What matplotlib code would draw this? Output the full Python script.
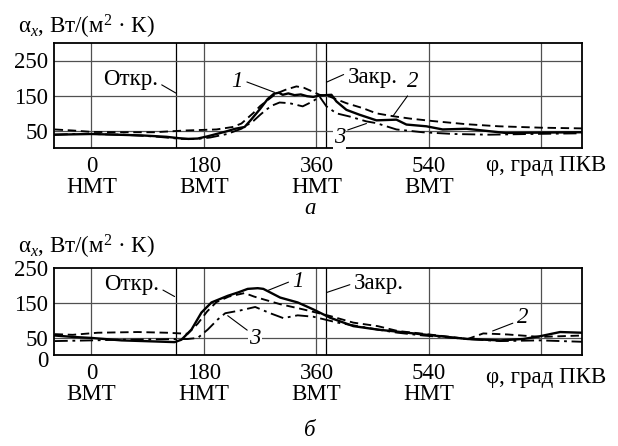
import matplotlib
matplotlib.use("Agg")
import matplotlib.pyplot as plt
import matplotlib.transforms as mtransforms

plt.rcParams['font.family'] = ['Liberation Serif', 'DejaVu Serif']
plt.rcParams['mathtext.fontset'] = 'custom'
plt.rcParams['mathtext.rm'] = 'Liberation Serif'
plt.rcParams['mathtext.it'] = 'Liberation Serif:italic'

# ---------------- data: panel a ----------------
a_x1 = [-59, -30, 0, 40, 80, 120, 140, 155, 170, 185, 200, 215, 230, 245, 255, 270, 282, 292, 300, 306, 315, 325, 335, 345, 355, 365, 375, 384, 392, 408, 429, 456, 488, 504, 536, 562, 600, 663, 720, 785]
a_y1 = [38, 39, 40, 38, 36, 32, 28, 26, 27, 33, 40, 47, 55, 60, 80, 112, 140, 155, 158, 152, 156, 151, 153, 148, 146, 150, 151, 152, 133, 109, 95, 79, 81, 67, 62, 53, 55, 43, 44, 45]
a_x2 = [-59, -30, 0, 50, 100, 150, 200, 226, 240, 259, 270, 280, 295, 310, 328, 340, 354, 365, 381, 408, 434, 456, 482, 510, 546, 600, 652, 720, 785]
a_y2 = [53, 50, 46, 45, 45, 50, 53, 60, 70, 100, 120, 134, 155, 166, 176, 172, 161, 152, 147, 128, 114, 99, 91, 84, 77, 68, 62, 58, 56]
a_x3 = [-59, -30, 0, 50, 100, 144, 170, 190, 217, 240, 259, 270, 280, 290, 301, 317, 338, 354, 365, 376, 392, 413, 440, 456, 488, 530, 580, 636, 700, 785]
a_y3 = [38, 40, 40, 38, 33, 26, 26, 30, 40, 55, 77, 95, 110, 122, 130, 128, 119, 133, 147, 119, 99, 90, 76, 71, 53, 45, 40, 38, 40, 42]

# ---------------- data: panel б ----------------
b_x1 = [-59, -30, 0, 48, 100, 133, 144, 160, 176, 192, 218, 235, 250, 266, 275, 302, 330, 355, 382, 419, 458, 490, 531, 602, 654, 691, 718, 750, 785]
b_y1 = [56, 52, 49, 42, 39, 37, 44, 73, 122, 151, 170, 180, 190, 192, 190, 165, 151, 131, 107, 83, 73, 67, 59, 46, 42, 46, 54, 66, 64]
b_x2 = [-59, -30, 10, 74, 120, 154, 170, 185, 200, 220, 245, 260, 275, 302, 339, 382, 419, 458, 490, 531, 602, 627, 666, 718, 785]
b_y2 = [60, 58, 64, 66, 64, 61, 90, 125, 152, 168, 178, 168, 160, 146, 131, 112, 93, 83, 69, 61, 46, 62, 59, 52, 56]
b_x3 = [-59, 0, 48, 100, 154, 170, 186, 202, 214, 238, 262, 286, 307, 330, 355, 394, 458, 490, 531, 602, 654, 718, 785]
b_y3 = [40, 42, 44, 45, 46, 49, 73, 102, 120, 128, 138, 120, 106, 114, 110, 93, 73, 64, 56, 46, 40, 42, 38]

a_ticklabels = ["0\nНМТ", "180\nВМТ", "360\nНМТ", "540\nВМТ"]
b_ticklabels = ["0\nВМТ", "180\nНМТ", "360\nВМТ", "540\nНМТ"]
xticks = [0, 180, 360, 540]
vgrid = [0, 180, 360, 540, 720]
valves = [135, 375]

W, H = 618, 446
fig = plt.figure(figsize=(W / 100, H / 100), dpi=100)

def px(x0, y0, x1, y1):
    return [x0 / W, 1 - y1 / H, (x1 - x0) / W, (y1 - y0) / H]

FS = 16.5
GRIDC = '#505050'

def setup(ax, ymax, yticks, hgrid, ticklabels):
    ax.set_xlim(-60, 785)
    ax.set_ylim(0, ymax)
    for v in vgrid:
        ax.axvline(v, color=GRIDC, lw=0.9, zorder=1)
    for v in valves:
        ax.axvline(v, color='black', lw=0.9, zorder=1)
    for h in hgrid:
        ax.axhline(h, color=GRIDC, lw=0.9, zorder=1)
    ax.set_yticks(yticks)
    ax.set_yticklabels([str(t) for t in yticks], fontsize=FS)
    ax.set_xticks(xticks)
    ax.set_xticklabels(ticklabels, fontsize=FS, linespacing=1.0)
    ax.tick_params(length=0, pad=4)
    ax.tick_params(axis='x', pad=6)
    for s in ax.spines.values():
        s.set_linewidth(1.3)
        s.set_color('black')

def curves(ax, x1, y1, x2, y2, x3, y3):
    ax.plot(x1, y1, color='black', lw=1.7, zorder=3)
    ax.plot(x2, y2, color='black', lw=1.35, dashes=(4.5, 2.5), zorder=3)
    ax.plot(x3, y3, color='black', lw=1.35, dashes=(7, 2.5, 1.5, 2.5), zorder=3)

def note(ax, text, xytext, xy, relpos, italic=False, bg=False):
    bbox = dict(boxstyle='square,pad=0.05', fc='white', ec='none') if bg else None
    ax.annotate(text, xy=xy, xytext=xytext, fontsize=FS, ha='center', va='center',
                style='italic' if italic else 'normal', bbox=bbox,
                arrowprops=dict(arrowstyle='-', lw=0.8, color='black', relpos=relpos,
                                shrinkA=1, shrinkB=0), zorder=4)

# panel a
ax1 = fig.add_axes(px(54, 43, 582, 148))
setup(ax1, 300, [50, 150, 250], [50, 150, 250], a_ticklabels)
curves(ax1, a_x1, a_y1, a_x2, a_y2, a_x3, a_y3)
note(ax1, "Откр.", (62, 196), (135, 157), (1.0, 0.35))
note(ax1, "Закр.", (450, 200), (376, 188), (0.0, 0.75))
note(ax1, "1", (233, 190), (293, 159), (1.0, 0.55), italic=True)
note(ax1, "2", (514, 190), (482, 90), (0.3, 0.0), italic=True)
note(ax1, "3", (397, 30), (440, 70), (0.9, 0.8), italic=True, bg=True)

# panel б
ax2 = fig.add_axes(px(54, 268, 582, 355))
setup(ax2, 250, [0, 50, 150, 250], [50, 150], b_ticklabels)
curves(ax2, b_x1, b_y1, b_x2, b_y2, b_x3, b_y3)
note(ax2, "Откр.", (64, 202), (133, 168), (1.0, 0.35))
note(ax2, "Закр.", (460, 206), (377, 180), (0.0, 0.5))
note(ax2, "1", (331, 211), (283, 186), (0.0, 0.55), italic=True)
note(ax2, "2", (690, 108), (642, 69), (0.0, 0.3), italic=True)
note(ax2, "3", (262, 46), (218, 113), (0.1, 0.8), italic=True, bg=True)

# the "0" label of panel б sits a little below its tick in the reference
lbl0 = ax2.get_yticklabels()[0]
lbl0.set_transform(lbl0.get_transform() + mtransforms.ScaledTranslation(0, -4 / 100, fig.dpi_scale_trans))
lbl0.set_verticalalignment('center_baseline')

# axis titles
ylab = "α$_x$, Вт/(м$^2$ · К)"
fig.text(18 / W, 1 - 27 / H, ylab, fontsize=FS, ha='left', va='center')
fig.text(18 / W, 1 - 247 / H, ylab, fontsize=FS, ha='left', va='center')
fig.text(606 / W, 1 - 166 / H, "φ, град ПКВ", fontsize=FS, ha='right', va='center')
fig.text(606 / W, 1 - 377 / H, "φ, град ПКВ", fontsize=FS, ha='right', va='center')
fig.text(310 / W, 1 - 208 / H, "а", fontsize=FS, ha='center', va='center', style='italic')
fig.text(310 / W, 1 - 430 / H, "б", fontsize=FS, ha='center', va='center', style='italic')

fig.savefig("out.png", dpi=100)
